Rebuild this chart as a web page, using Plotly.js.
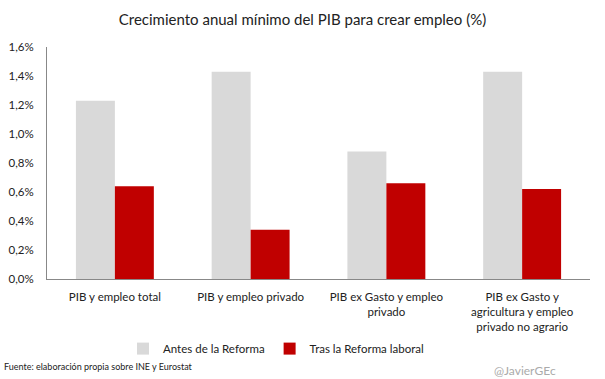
<!DOCTYPE html>
<html><head><meta charset="utf-8">
<script src="https://cdn.plot.ly/plotly-3.0.1.min.js"></script>
<style>html,body{margin:0;padding:0;background:#fff}#chart{width:605px;height:379px}</style>
</head><body><div id="chart"></div>
<script>
const categories = ["PIB y empleo total", "PIB y empleo privado", "PIB ex Gasto y empleo<br>privado", "PIB ex Gasto y<br>agricultura y empleo<br>privado no agrario"];
const antes = [1.23, 1.43, 0.88, 1.43];
const tras = [0.64, 0.34, 0.66, 0.62];
const yTicks = [0, 0.2, 0.4, 0.6, 0.8, 1.0, 1.2, 1.4, 1.6];
const yTickLabels = ["0,0%", "0,2%", "0,4%", "0,6%", "0,8%", "1,0%", "1,2%", "1,4%", "1,6%"];

const font = "Lato, 'Open Sans', sans-serif";
const data = [
  {type: "bar", name: "Antes de la Reforma", x: categories, y: antes, marker: {color: "#d9d9d9"}, hoverinfo: "none"},
  {type: "bar", name: "Tras la Reforma laboral", x: categories, y: tras, marker: {color: "#c00000"}, hoverinfo: "none"}
];
const layout = {
  width: 605, height: 379,
  margin: {l: 47, r: 15, t: 47, b: 100},
  paper_bgcolor: "#fff", plot_bgcolor: "#fff",
  font: {family: font, size: 11.5, color: "#333"},
  title: {text: "Crecimiento anual mínimo del PIB para crear empleo (%)", x: 0.5, xanchor: "center", y: 0.948, yanchor: "middle", font: {size: 15, color: "#222", family: font}},
  barmode: "group", bargap: 0.426, bargroupgap: 0,
  xaxis: {showline: true, linecolor: "#888", linewidth: 1, showgrid: false, ticks: "", ticklabelstandoff: 7, tickfont: {size: 11.5, color: "#222"}, fixedrange: true},
  yaxis: {range: [0, 1.6], tickvals: yTicks, ticktext: yTickLabels, showline: true, linecolor: "#888", linewidth: 1, showgrid: false, zeroline: false, ticks: "", ticklen: 0, ticklabelstandoff: 10, tickfont: {size: 11.5, color: "#222"}, fixedrange: true},
  legend: {orientation: "h", x: 0.14, xanchor: "left", y: -0.30, yanchor: "middle", font: {size: 11.5, color: "#222"}, itemwidth: 30, traceorder: "normal"},
  showlegend: true,
  annotations: [
    {text: "Fuente: elaboración propia sobre INE y Eurostat", xref: "paper", yref: "paper", x: -47/543, xanchor: "left", y: -87/232, yanchor: "middle", showarrow: false, font: {size: 9, color: "#222"}, xshift: 2},
    {text: "@JavierGEc", xref: "paper", yref: "paper", x: 1, xanchor: "right", y: -91/232, yanchor: "middle", showarrow: false, font: {size: 12, color: "#aaa"}, xshift: -32}
  ]
};
Plotly.newPlot("chart", data, layout, {displayModeBar: false, staticPlot: true});
</script></body></html>
